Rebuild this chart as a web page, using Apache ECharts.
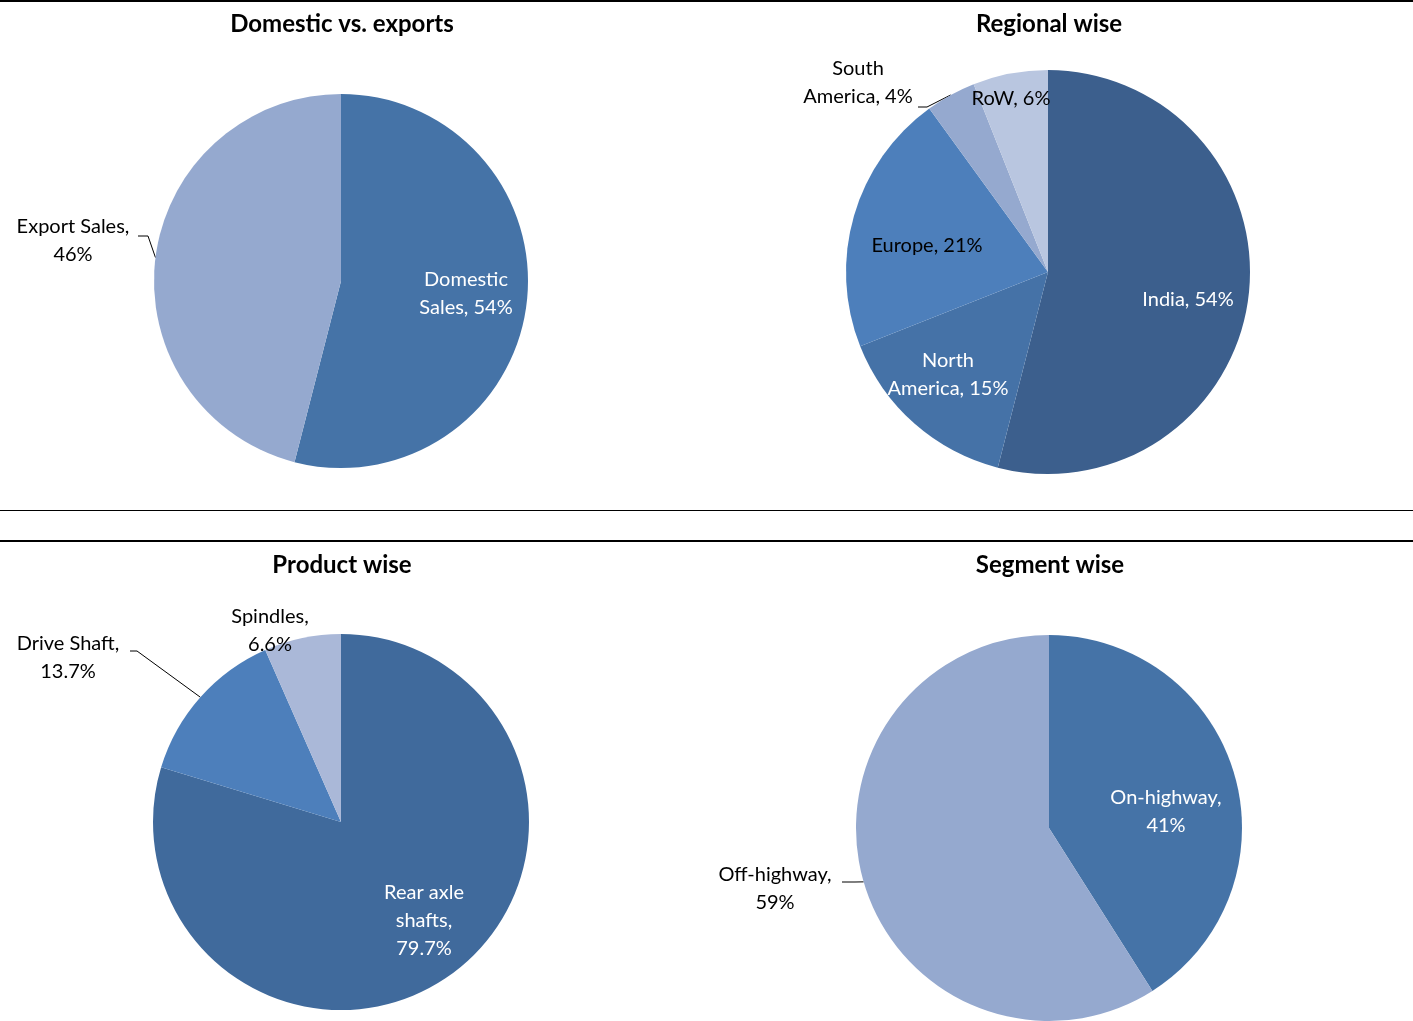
<!DOCTYPE html>
<html>
<head>
<meta charset="utf-8">
<script src="https://cdn.jsdelivr.net/npm/echarts@6/dist/echarts.min.js"></script>
<style>
html,body{margin:0;padding:0;background:#fff;}
#chart{width:1413px;height:1021px;}
</style>
</head>
<body>
<div id="chart"></div>
<script>
// ---------------- DATA ----------------
const titles = ['Domestic vs. exports', 'Regional wise', 'Product wise', 'Segment wise'];

const salesNames = ['Domestic Sales', 'Export Sales'];
const salesValues = [54, 46];

const regionNames = ['India', 'North America', 'Europe', 'South America', 'RoW'];
const regionValues = [54, 15, 21, 4, 6];

const productNames = ['Rear axle shafts', 'Drive Shaft', 'Spindles'];
const productValues = [79.7, 13.7, 6.6];

const segmentNames = ['On-highway', 'Off-highway'];
const segmentValues = [41, 59];

// ---------------- STYLE / LAYOUT ----------------
const FONT = 'Lato, "Open Sans", sans-serif';
const pies = [
  { names: salesNames, values: salesValues, cx: 341, cy: 281, r: 187,
    colors: ['#4573A7', '#95A9CF'],
    textColors: ['#ffffff', '#000000'],
    wrap: ['Domestic\nSales,', 'Export Sales,\n'],
    labelOff: [[125, 13], [-268, -40]],
    line: [null, [[-193, -45], [-203, -45]]] },
  { names: regionNames, values: regionValues, cx: 1048, cy: 272, r: 202,
    colors: ['#3C5F8D', '#4572A7', '#4D7FBB', '#95A9CF', '#B9C6E0'],
    textColors: ['#ffffff', '#ffffff', '#000000', '#000000', '#000000'],
    wrap: ['India,', 'North\nAmerica,', 'Europe,', 'South\nAmerica,', 'RoW,'],
    labelOff: [[140, 28], [-100, 103], [-121, -26], [-190, -189], [-37, -173]],
    line: [null, null, null, [[-121, -165], [-130, -165]], null] },
  { names: productNames, values: productValues, cx: 341, cy: 822, r: 188,
    colors: ['#406A9C', '#4D7FBB', '#AAB8D8'],
    textColors: ['#ffffff', '#000000', '#000000'],
    wrap: ['Rear axle\nshafts,\n', 'Drive Shaft,\n', 'Spindles,\n'],
    labelOff: [[83, 99], [-273, -164], [-71, -191]],
    line: [null, [[-204, -171], [-211, -171]], null] },
  { names: segmentNames, values: segmentValues, cx: 1049, cy: 828, r: 193,
    colors: ['#4573A7', '#95A9CF'],
    textColors: ['#ffffff', '#000000'],
    wrap: ['On-highway,\n', 'Off-highway,\n'],
    labelOff: [[117, -16], [-274, 61]],
    line: [null, [[-194, 54], [-207, 54]]] }
];
const titleY = [23, 23, 564, 564];

const chart = echarts.init(document.getElementById('chart'), null, { renderer: 'canvas' });

function midAngle(values, i) {
  const total = values.reduce((a, b) => a + b, 0);
  let cum = 0;
  for (let k = 0; k < i; k++) cum += values[k];
  return ((cum + values[i] / 2) / total) * 2 * Math.PI; // clockwise from 12 o'clock
}

const series = pies.map((p, si) => ({
  type: 'pie',
  center: [p.cx, p.cy],
  radius: p.r,
  startAngle: 90,
  clockwise: true,
  avoidLabelOverlap: false,
  silent: true,
  animation: false,
  itemStyle: { borderWidth: 0 },
  data: p.names.map((n, i) => {
    const hasLine = !!p.line[i];
    const txt = p.wrap[i];
    return {
      name: n,
      value: p.values[i],
      itemStyle: { color: p.colors[i] },
      label: {
        show: true,
        position: hasLine ? 'outside' : 'inside',
        color: p.textColors[i],
        fontFamily: FONT,
        fontSize: 20,
        lineHeight: 28,
        formatter: () => txt + (txt.endsWith('\n') ? '' : ' ') + p.values[i] + '%'
      },
      labelLine: { show: hasLine, lineStyle: { color: '#000', width: 1 } }
    };
  }),
  labelLayout: function (params) {
    const i = params.dataIndex;
    const off = p.labelOff[i];
    const res = { x: p.cx + off[0], y: p.cy + off[1], align: 'center', verticalAlign: 'middle' };
    if (p.line[i]) {
      const a = midAngle(p.values, i);
      const edge = [p.cx + p.r * Math.sin(a), p.cy - p.r * Math.cos(a)];
      res.labelLinePoints = [edge,
        [p.cx + p.line[i][0][0], p.cy + p.line[i][0][1]],
        [p.cx + p.line[i][1][0], p.cy + p.line[i][1][1]]];
    }
    return res;
  }
}));

const W = 1413;
const option = {
  backgroundColor: '#ffffff',
  animation: false,
  title: titles.map((t, i) => ({
    text: t,
    left: pies[i].cx - 4,
    top: titleY[i] - 16,
    textAlign: 'center',
    textStyle: { fontFamily: FONT, fontWeight: 'bold', fontSize: 24, color: '#000' }
  })),
  graphic: [
    { type: 'rect', shape: { x: 0, y: 0, width: W, height: 2 }, style: { fill: '#000' }, silent: true },
    { type: 'rect', shape: { x: 0, y: 510, width: W, height: 1 }, style: { fill: '#000' }, silent: true },
    { type: 'rect', shape: { x: 0, y: 540, width: W, height: 2 }, style: { fill: '#000' }, silent: true }
  ],
  series: series
};
chart.setOption(option);
</script>
</body>
</html>
